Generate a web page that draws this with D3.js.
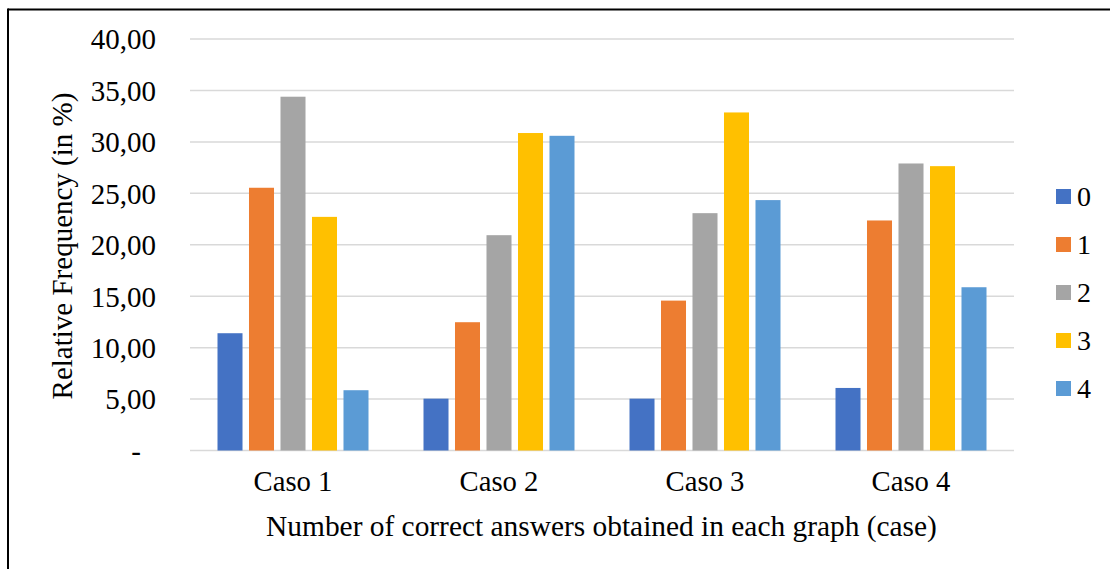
<!DOCTYPE html>
<html>
<head>
<meta charset="utf-8">
<script src="https://cdn.jsdelivr.net/npm/d3@7"></script>
<style>
  html, body { margin: 0; padding: 0; background: #fff; }
  svg { display: block; }
</style>
</head>
<body>
<svg id="chart" width="1110" height="569"></svg>
<script>
// Relative frequency (%) of the number of correct answers, per case
const cases = ["Caso 1", "Caso 2", "Caso 3", "Caso 4"];
const seriesNames = ["0", "1", "2", "3", "4"];
const answers0 = [11.40, 5.04, 5.04, 6.08];
const answers1 = [25.54, 12.47, 14.57, 22.36];
const answers2 = [34.39, 20.93, 23.07, 27.90];
const answers3 = [22.71, 30.86, 32.86, 27.64];
const answers4 = [5.86, 30.59, 24.34, 15.87];
const yTicks = [0, 5, 10, 15, 20, 25, 30, 35, 40];
const colors = ["#4472C4", "#ED7D31", "#A5A5A5", "#FFC000", "#5B9BD5"];

const seriesValues = [answers0, answers1, answers2, answers3, answers4];
const FONT = "Liberation Serif";

const svg = d3.select("#chart");
const plot = { left: 190, right: 1014, top: 39, bottom: 450.5 };

// outer frame (top and left edges)
svg.append("line").attr("x1", 8).attr("x2", 1110).attr("y1", 9.5).attr("y2", 9.5)
  .attr("stroke", "#000").attr("stroke-width", 2);
svg.append("line").attr("x1", 8).attr("x2", 8).attr("y1", 8.5).attr("y2", 569)
  .attr("stroke", "#000").attr("stroke-width", 2);

const y = d3.scaleLinear().domain([0, 40]).range([plot.bottom, plot.top]);
const x0 = d3.scaleBand().domain(cases).range([plot.left, plot.right]).paddingInner(0).paddingOuter(0);
const groupWidth = 151;
const x1 = d3.scaleBand().domain(seriesNames).range([0, groupWidth]).paddingInner(0.206).paddingOuter(0);
const groupOffset = (x0.bandwidth() - groupWidth) / 2;

// gridlines
svg.append("g")
  .selectAll("line")
  .data(yTicks)
  .join("line")
  .attr("x1", plot.left).attr("x2", plot.right)
  .attr("y1", d => y(d)).attr("y2", d => y(d))
  .attr("stroke", "#d9d9d9").attr("stroke-width", 1.5);

// y axis labels
const yAxis = svg.append("g")
  .attr("transform", `translate(${plot.left},0)`)
  .call(d3.axisLeft(y).tickValues(yTicks).tickSize(0).tickPadding(34)
    .tickFormat(d => d === 0 ? "-" : d3.format(".2f")(d).replace(".", ",")));
yAxis.attr("font-family", FONT).attr("font-size", 29);
yAxis.select(".domain").remove();
yAxis.selectAll("text").attr("fill", "#000").attr("dy", "0.34em");
yAxis.selectAll(".tick").filter(d => d === 0).select("text").attr("x", -49);

// bars
const groups = svg.append("g")
  .selectAll("g")
  .data(cases)
  .join("g")
  .attr("transform", d => `translate(${x0(d) + groupOffset},0)`);

groups.selectAll("rect")
  .data((c, ci) => seriesNames.map((s, si) => ({ s, si, v: seriesValues[si][ci] })))
  .join("rect")
  .attr("x", d => x1(d.s))
  .attr("width", x1.bandwidth())
  .attr("y", d => y(d.v))
  .attr("height", d => y(0) - y(d.v))
  .attr("fill", d => colors[d.si]);

// x axis category labels
const xAxis = svg.append("g")
  .attr("transform", `translate(0,${plot.bottom})`)
  .call(d3.axisBottom(x0).tickSize(0).tickPadding(20));
xAxis.attr("font-family", FONT).attr("font-size", 28.7);
xAxis.select(".domain").remove();
xAxis.selectAll("text").attr("fill", "#000").attr("dy", "0.71em");

// axis titles
svg.append("text")
  .attr("x", (plot.left + plot.right) / 2 - 0.5)
  .attr("y", 536)
  .attr("text-anchor", "middle")
  .attr("font-family", FONT).attr("font-size", 29.4)
  .text("Number of correct answers obtained in each graph (case)");

svg.append("text")
  .attr("transform", "translate(71.5,246) rotate(-90)")
  .attr("text-anchor", "middle")
  .attr("font-family", FONT).attr("font-size", 29)
  .text("Relative Frequency (in %)");

// legend
const legend = svg.append("g")
  .selectAll("g")
  .data(seriesNames)
  .join("g")
  .attr("transform", (d, i) => `translate(1056,${196.5 + i * 48})`);
legend.append("rect")
  .attr("x", 0).attr("y", -7.5).attr("width", 15).attr("height", 15)
  .attr("fill", (d, i) => colors[i]);
legend.append("text")
  .attr("x", 21).attr("y", 0).attr("dy", "0.35em")
  .attr("font-family", FONT).attr("font-size", 28)
  .text(d => d);
</script>
</body>
</html>
